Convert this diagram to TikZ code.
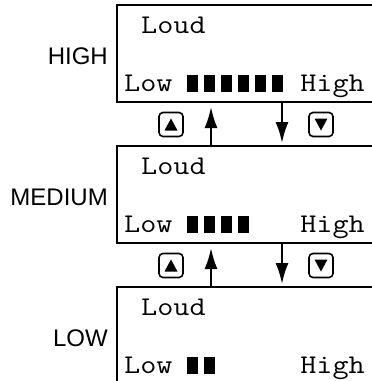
\documentclass[tikz,border=0pt]{standalone}
\usepackage{fontspec}
\usepackage{graphicx}
\setmainfont{Liberation Sans}
\usetikzlibrary{arrows.meta}
\newcommand{\lcd}[1]{\scalebox{1.16}[1]{#1}}

\begin{document}
\begin{tikzpicture}[x=1pt, y=-1pt, >={Latex[length=21pt,width=13pt]}]
\tikzset{
  screen/.style={draw, line width=1.1pt, minimum width=262pt, minimum height=97pt, anchor=north west, inner sep=0pt, outer sep=0pt},
  lcdtext/.style={font=\fontsize{27}{27}\selectfont\ttfamily, inner sep=0pt},
  level/.style={font=\fontsize{24}{24}\selectfont, anchor=east, inner sep=0pt},
  key/.style={draw, line width=1.6pt, rounded corners=4pt, minimum width=24pt, minimum height=24pt, inner sep=0pt},
  flow/.style={->, line width=2.2pt}
}
\useasboundingbox (0,0) rectangle (372,381);
% the three volume screens
\foreach \nm/\ty/\lab/\nb in {hi/5/HIGH/6, me/146/MEDIUM/4, lo/287/LOW/2} {
  \node[screen] (\nm) at (117,\ty) {};
  \node[level] (\nm-lab) at (108,\ty+51) {\lab};
  \node[lcdtext, anchor=base west] (\nm-loud) at (141,\ty+28) {\lcd{Loud}};
  \node[lcdtext, anchor=base west] (\nm-low) at (124,\ty+86) {\lcd{Low}};
  \node[lcdtext, anchor=base east] (\nm-high) at (365,\ty+86) {\lcd{High}};
  \foreach \i in {1,...,\nb} \fill (170+17*\i,\ty+70) rectangle ++(11,16.5);
}
% keys and steps between screens
\foreach \up/\dn/\y in {me/hi/124.5, lo/me/265.5} {
  \node[key] (\up-upkey) at (171,\y) {};
  \fill (\up-upkey.center) ++(0,-6) -- ++(6.5,12) -- ++(-13,0) -- cycle;
  \node[key] (\up-dnkey) at (321,\y) {};
  \fill (\up-dnkey.center) ++(0,6) -- ++(6.5,-12) -- ++(-13,0) -- cycle;
  \draw[flow] ([xshift=94pt]\up.north west) -- ([xshift=94pt,yshift=-5pt]\dn.south west);
  \draw[flow] ([xshift=165pt]\dn.south west) -- ([xshift=165pt,yshift=3pt]\up.north west);
}
\end{tikzpicture}
\end{document}
